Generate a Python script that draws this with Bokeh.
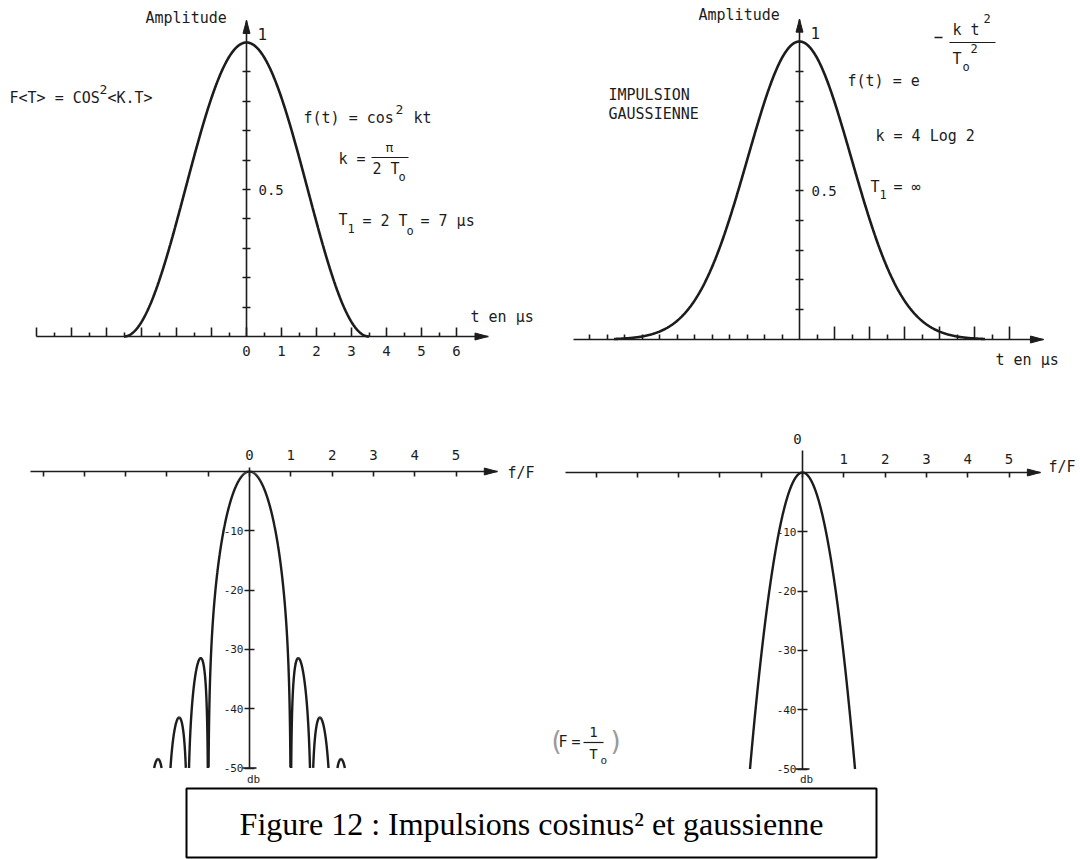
import numpy as np
from bokeh.plotting import figure
from bokeh.models import Range1d, LinearAxis, FixedTicker
from bokeh.core.properties import value
from bokeh.embed import file_html
from bokeh.resources import INLINE

# ---------------------------------------------------------------- data
T0_US = 3.5                       # T1 = 2 T0 = 7 µs
GAUSS_K = 4 * np.log(2)           # k = 4 Log 2
DB_FLOOR = -50                    # lowest level drawn on the spectra

t_major_cos = [-6, -5, -4, -3, -2, -1, 0, 1, 2, 3, 4, 5, 6]
t_minor_cos = [-5.5, -4.5, -3.5, -2.5, -1.5, -0.5, 0.5, 1.5, 2.5, 3.5, 4.5, 5.5]
t_labels_cos = ["0", "1", "2", "3", "4", "5", "6"]
t_major_gauss = [1, 2, 3, 4, 5, 6]
t_minor_gauss = [-6, -5.5, -5, -4.5, -4, -3.5, -3, -2.5, -2, -1.5, -1, -0.5,
                 0.5, 1.5, 2.5, 3.5, 4.5, 5.5]
amp_ticks = [0.1, 0.2, 0.3, 0.4, 0.5, 0.6, 0.7, 0.8, 0.9]
amp_label = "0.5"
freq_ticks = [-5, -4, -3, -2, -1, 0, 1, 2, 3, 4, 5]
freq_labels = ["0", "1", "2", "3", "4", "5"]
db_ticks = [-10, -20, -30, -40, -50]
db_labels = ["-10", "-20", "-30", "-40", "-50"]

# ---------------------------------------------------------------- curves
# f(t) = cos^2 kt, k = pi / (2 T0), on |t| <= T0
t_cos = np.linspace(-T0_US, T0_US, 500)
a_cos = np.cos(np.pi * t_cos / (2 * T0_US)) ** 2

# f(t) = exp(-k t^2 / T0^2)
t_gauss = np.linspace(-5.3, 5.3, 700)
a_gauss = np.exp(-GAUSS_K * t_gauss ** 2 / T0_US ** 2)

# spectrum of the cos^2 pulse (length 2 T0), f in units of F = 1/T0
f_cos = np.linspace(-2.6, 2.6, 40001)
x = 2 * f_cos
with np.errstate(divide="ignore", invalid="ignore"):
    s_cos = np.sinc(x) / (1 - x ** 2)
s_cos[np.isclose(np.abs(x), 1.0)] = 0.5
with np.errstate(divide="ignore"):
    db_cos = 20 * np.log10(np.abs(s_cos))
db_cos[db_cos < DB_FLOOR] = np.nan

# spectrum of the gaussian pulse: exp(-pi^2 f^2 T0^2 / k)
db_per_unit2 = 20 * np.log10(np.e) * np.pi ** 2 / GAUSS_K
f_lim = np.sqrt(-DB_FLOOR / db_per_unit2)
f_gauss = np.linspace(-f_lim, f_lim, 600)
db_gauss = -db_per_unit2 * f_gauss ** 2

# ---------------------------------------------------------------- page
W, H = 1080, 859
INK = "#1c1c1c"
MONO = "DejaVu Sans Mono"
SERIF = "Liberation Serif"

# origin pixel and pixels per unit of each panel
PANELS = {
    "tl": dict(x0=246, sx=35.0, y0=336, sy=294.0),
    "tr": dict(x0=799, sx=35.0, y0=339, sy=298.0),
    "bl": dict(x0=249, sx=41.3, y0=471, sy=5.93),
    "br": dict(x0=802, sx=41.3, y0=472, sy=5.93),
}

p = figure(width=W, height=H, x_range=Range1d(0, W), y_range=Range1d(H, 0),
           x_axis_type=None, y_axis_type=None, toolbar_location=None,
           output_backend="svg", min_border=0)
p.outline_line_color = None
p.background_fill_color = "white"
p.border_fill_color = "white"

for name, c in PANELS.items():
    p.extra_x_ranges[name + "x"] = Range1d(-c["x0"] / c["sx"], (W - c["x0"]) / c["sx"])
    p.extra_y_ranges[name + "y"] = Range1d((c["y0"] - H) / c["sy"], c["y0"] / c["sy"])


def rn(panel):
    return dict(x_range_name=panel + "x", y_range_name=panel + "y")


def make_axis(panel, side, loc, ticks, minor, bounds, labels, font_size="14px",
              tick_in=0, tick_out=0, minor_in=0, minor_out=0, standoff=6):
    ax = LinearAxis(fixed_location=loc, bounds=bounds,
                    ticker=FixedTicker(ticks=ticks, minor_ticks=minor), **rn(panel))
    ax.axis_line_color = INK
    ax.axis_line_width = 1.6
    ax.major_tick_line_color = INK
    ax.major_tick_line_width = 1.6
    ax.minor_tick_line_color = INK
    ax.minor_tick_line_width = 1.6
    ax.major_tick_in = tick_in
    ax.major_tick_out = tick_out
    ax.minor_tick_in = minor_in
    ax.minor_tick_out = minor_out
    ax.major_label_overrides = labels
    ax.major_label_text_font = MONO
    ax.major_label_text_font_size = font_size
    ax.major_label_text_color = INK
    ax.major_label_standoff = standoff
    p.add_layout(ax, side)
    return ax


def head(panel, tip_u, tip_v, direction, length=13, width=7):
    c = PANELS[panel]
    du, dv = length / c["sx"], length / c["sy"]
    hu, hv = width / 2 / c["sx"], width / 2 / c["sy"]
    if direction == "right":
        xs, ys = [tip_u, tip_u - du, tip_u - du], [tip_v, tip_v + hv, tip_v - hv]
    else:
        xs, ys = [tip_u, tip_u - hu, tip_u + hu], [tip_v, tip_v - dv, tip_v - dv]
    p.patch(xs, ys, fill_color=INK, line_color=INK, line_width=1, **rn(panel))


def label(x, y, s, size=15, align="left", font=MONO, color=INK, baseline="middle"):
    p.text(x=[x], y=[y], text=[s], text_font=value(font), text_font_size=f"{size}px",
           text_align=align, text_baseline=baseline, text_color=color)


def blank_except(ticks, shown):
    return {t: (shown[t] if t in shown else "") for t in ticks}


# ---------------------------------------------------------------- top left: cos^2 pulse
make_axis("tl", "below", 0, t_major_cos, t_minor_cos, (-6, 6.9),
          blank_except(t_major_cos, dict(zip(range(7), t_labels_cos))),
          tick_in=9, minor_in=4, standoff=9)
make_axis("tl", "right", 0, amp_ticks, [], (0, 1.075),
          blank_except(amp_ticks, {0.5: amp_label}), tick_in=4, tick_out=4, standoff=8)
head("tl", 6.9, 0, "right")
head("tl", 0, 1.075, "up")
p.line(t_cos, a_cos, line_color=INK, line_width=2.6, **rn("tl"))

# ---------------------------------------------------------------- top right: gaussian pulse
make_axis("tr", "below", 0, t_major_gauss, t_minor_gauss, (-6.46, 6.97),
          {t: "" for t in t_major_gauss}, tick_in=13, minor_in=5)
make_axis("tr", "right", 0, amp_ticks, [], (0, 1.075),
          blank_except(amp_ticks, {0.5: amp_label}), tick_in=4, tick_out=4, standoff=8)
head("tr", 6.97, 0, "right")
head("tr", 0, 1.075, "up")
p.line(t_gauss, a_gauss, line_color=INK, line_width=2.6, **rn("tr"))

# ---------------------------------------------------------------- bottom left: cos^2 spectrum
make_axis("bl", "above", 0, freq_ticks, [], (-5.3, 6.0),
          blank_except(freq_ticks, dict(zip(range(6), freq_labels))),
          tick_in=5, standoff=12)
make_axis("bl", "left", 0, db_ticks, [], (DB_FLOOR, 0.6),
          dict(zip(db_ticks, db_labels)), font_size="11px", tick_in=5, tick_out=5, standoff=1)
head("bl", 6.0, 0, "right")
p.line(f_cos, db_cos, line_color=INK, line_width=2.4, **rn("bl"))
p.segment(x0=[-7 / PANELS["bl"]["sx"]], y0=[DB_FLOOR], x1=[7 / PANELS["bl"]["sx"]], y1=[DB_FLOOR],
          line_color=INK, line_width=1.6, **rn("bl"))

# ---------------------------------------------------------------- bottom right: gaussian spectrum
make_axis("br", "above", 0, freq_ticks, [], (-5.74, 5.76),
          blank_except(freq_ticks, dict(zip(range(1, 6), freq_labels[1:]))),
          tick_in=5, standoff=9)
make_axis("br", "left", 0, db_ticks, [], (DB_FLOOR, 3.7),
          dict(zip(db_ticks, db_labels)), font_size="11px", tick_in=5, tick_out=5, standoff=1)
head("br", 5.76, 0, "right")
p.line(f_gauss, db_gauss, line_color=INK, line_width=2.4, **rn("br"))
p.segment(x0=[-7 / PANELS["br"]["sx"]], y0=[DB_FLOOR], x1=[7 / PANELS["br"]["sx"]], y1=[DB_FLOOR],
          line_color=INK, line_width=1.6, **rn("br"))

# ---------------------------------------------------------------- annotations (page pixels)
# top left
label(145, 17, "Amplitude")
label(257, 33, "1", size=16)
label(9, 97, "F<T> = COS")
label(99, 89, "2", size=13)
label(107, 97, "<K.T>")
label(303, 117, "f(t) = cos")
label(395, 109, "2", size=13)
label(413, 117, "kt")
label(338, 158, "k =")
label(389, 147, "π", size=13, align="center")
p.segment(x0=[371], y0=[157], x1=[408], y1=[157], line_color=INK, line_width=1.2)
label(372, 168, "2 T")
label(398, 176, "o", size=12)
label(338, 219, "T")
label(347, 228, "1", size=12)
label(362, 220, "=  2  T")
label(406, 230, "o", size=12)
label(420, 220, "=  7  µs")
label(470, 316, "t en µs")

# top right
label(698, 14, "Amplitude")
label(810, 32, "1", size=16)
label(608, 94, "IMPULSION")
label(608, 113, "GAUSSIENNE")
label(847, 80, "f(t) = e")
p.segment(x0=[934], y0=[37], x1=[942], y1=[37], line_color=INK, line_width=1.4)
label(952, 29, "k t")
label(983, 18, "2", size=12)
p.segment(x0=[949], y0=[42], x1=[995], y1=[42], line_color=INK, line_width=1.2)
label(952, 58, "T")
label(962, 66, "o", size=12)
label(970, 48, "2", size=12)
label(875, 135, "k = 4 Log 2")
label(870, 186, "T")
label(879, 194, "1", size=12)
label(893, 186, "= ∞")
label(995, 359, "t en µs")

# bottom
label(507, 472, "f/F")
label(253, 779, "db", size=11, align="center")
label(1048, 466, "f/F")
label(797, 438, "0", size=14, align="center")
label(806, 779, "db", size=11, align="center")

label(551, 740, "(", size=26, color="#9a9a9a", font="DejaVu Sans")
label(558, 741, "F")
label(571, 741, "=")
label(593, 731, "1", size=14, align="center")
p.segment(x0=[583], y0=[742], x1=[603], y1=[742], line_color=INK, line_width=1.2)
label(593, 753, "T", size=14, align="center")
label(600, 760, "o", size=11)
label(610, 740, ")", size=26, color="#9a9a9a", font="DejaVu Sans")

# caption
p.quad(left=[186], right=[876], top=[788], bottom=[857], fill_color=None,
       line_color="black", line_width=2)
label(531, 823, "Figure 12 : Impulsions cosinus² et gaussienne", size=32,
      align="center", font=SERIF, color="black")

open("out.html", "w").write(file_html(p, INLINE))
